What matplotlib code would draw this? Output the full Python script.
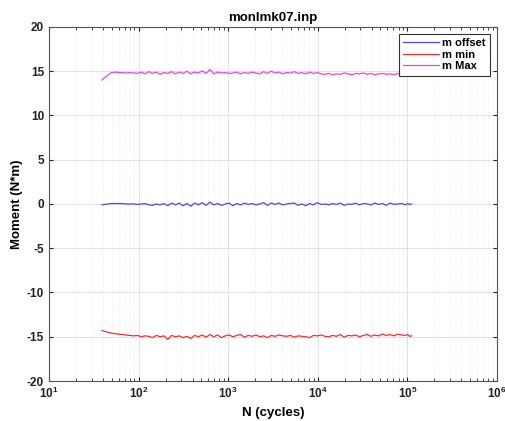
import matplotlib
matplotlib.use("Agg")
import matplotlib.pyplot as plt
from matplotlib.ticker import LogLocator, NullFormatter

plt.rcParams['font.family'] = ['Liberation Sans', 'DejaVu Sans']
plt.rcParams['font.weight'] = 'bold'
plt.rcParams['axes.unicode_minus'] = False

N_cycles = [39, 42, 46, 50, 55, 60, 66, 72, 80, 88,
            97, 107, 118, 130, 143, 158, 174, 192, 212, 234,
            258, 285, 314, 347, 383, 422, 466, 514, 567, 626,
            690, 762, 841, 928, 1024, 1130, 1247, 1376, 1519, 1676,
            1850, 2041, 2253, 2486, 2744, 3028, 3342, 3688, 4070, 4492,
            4957, 5471, 6038, 6663, 7354, 8116, 8957, 9885, 10910, 12040,
            13290, 14660, 16180, 17860, 19710, 21750, 24010, 26490, 29240, 32270,
            35610, 39300, 43370, 47870, 52830, 58300, 64340, 71010, 78370, 86490,
            95450, 101000, 106000, 112000]

m_max = [14.0, 14.3, 14.6, 14.85, 14.9, 14.85, 14.85, 14.8, 14.85, 14.8,
         14.75, 14.9, 14.7, 14.95, 14.75, 14.9, 14.65, 14.85, 14.75, 14.95,
         14.7, 14.9, 14.75, 15.0, 14.7, 14.9, 14.8, 15.05, 14.75, 15.2,
         14.7, 14.9, 14.8, 14.85, 14.75, 14.8, 14.9, 14.7, 14.85, 14.75,
         14.9, 14.8, 14.7, 14.95, 14.75, 15.0, 14.8, 14.9, 14.7, 14.85,
         14.8, 14.95, 14.75, 14.85, 14.7, 14.9, 14.75, 14.85, 14.7, 14.65,
         14.75, 14.6, 14.7, 14.65, 14.8, 14.7, 14.6, 14.75, 14.7, 14.8,
         14.65, 14.75, 14.6, 14.7, 14.75, 14.65, 14.7, 14.6, 14.75, 14.65,
         14.55, 14.65, 14.7, 14.6]

m_min = [-14.3, -14.4, -14.5, -14.6, -14.65, -14.7, -14.75, -14.8, -14.85, -14.9,
         -14.85, -15.0, -14.9, -14.95, -15.1, -14.85, -15.0, -14.9, -15.3, -14.85,
         -15.0, -14.9, -15.1, -14.95, -15.2, -14.85, -15.0, -14.8, -15.05, -14.75,
         -15.0, -14.8, -15.1, -14.9, -14.8, -15.0, -14.85, -14.75, -15.05, -14.85,
         -14.95, -14.8, -15.0, -14.9, -15.1, -14.85, -14.95, -14.8, -14.9, -14.95,
         -14.85, -15.05, -14.9, -14.95, -15.0, -15.1, -14.85, -14.9, -14.8, -14.95,
         -15.0, -14.85, -14.95, -14.75, -15.05, -14.85, -14.9, -14.8, -15.0, -14.85,
         -14.75, -14.95, -14.8, -14.9, -14.7, -14.85, -14.75, -14.9, -14.7, -14.8,
         -14.85, -14.75, -14.95, -14.9]

m_offset = [-0.1, -0.05, 0.0, 0.05, 0.05, 0.05, 0.05, 0.0, 0.0, 0.0,
            -0.05, 0.0, 0.05, -0.1, -0.15, 0.0, -0.1, 0.05, -0.2, 0.1,
            -0.1, 0.1, -0.2, 0.05, -0.25, 0.1, -0.1, 0.15, -0.15, 0.2,
            -0.1, 0.05, -0.15, 0.0, 0.1, -0.2, 0.05, -0.1, 0.1, -0.05,
            0.05, -0.1, 0.0, 0.15, -0.15, 0.1, -0.05, 0.1, -0.1, 0.0,
            0.05, 0.1, -0.15, 0.0, -0.2, 0.05, -0.1, 0.15, -0.05, 0.0,
            -0.1, 0.05, -0.05, 0.1, -0.15, 0.0, -0.05, 0.1, -0.1, 0.05,
            0.0, -0.1, 0.1, -0.05, 0.05, -0.15, 0.1, -0.05, 0.0, 0.05,
            -0.1, 0.05, -0.05, 0.0]

y_ticks = [-20, -15, -10, -5, 0, 5, 10, 15, 20]

fig = plt.figure(figsize=(5.05, 4.21), dpi=100)
ax = fig.add_axes([0.097, 0.095, 0.887, 0.841])

ax.plot(N_cycles, m_offset, color='#4a4af0', lw=0.9, label='m offset')
ax.plot(N_cycles, m_min, color='#f03030', lw=0.9, label='m min')
ax.plot(N_cycles, m_max, color='#f040f0', lw=0.9, label='m Max')

ax.set_xscale('log')
ax.set_xlim(10, 1e6)
ax.set_ylim(-20, 20)
ax.set_yticks(y_ticks)
ax.xaxis.set_major_locator(LogLocator(base=10, numticks=10))
ax.xaxis.set_minor_locator(LogLocator(base=10, subs=range(2, 10), numticks=100))
ax.xaxis.set_minor_formatter(NullFormatter())

ax.grid(True, which='major', color='#dcdcdc', lw=0.6)
ax.grid(True, which='minor', axis='x', color='#e6e6e6', lw=0.5, ls=':')
ax.tick_params(which='both', direction='in', top=True, right=True, labelsize=8.5, colors='#222222')
ax.tick_params(which='major', length=3)
ax.tick_params(which='minor', length=2)
for s in ax.spines.values():
    s.set_color('#555555')
    s.set_linewidth(0.8)

ax.set_title('monlmk07.inp', fontsize=9.5, fontweight='bold', pad=4)
ax.set_xlabel('N (cycles)', fontsize=9.5, fontweight='bold')
ax.set_ylabel('Moment (N*m)', fontsize=9.5, fontweight='bold')
ax.yaxis.set_label_coords(-0.058, 0.5)

leg = ax.legend(loc='upper right', fontsize=8, fancybox=False, framealpha=1,
                edgecolor='#333333', handlelength=3.2, borderaxespad=0.6,
                labelspacing=0.15, handletextpad=0.3)
leg.get_frame().set_linewidth(0.8)

fig.savefig('out.png', dpi=100)
